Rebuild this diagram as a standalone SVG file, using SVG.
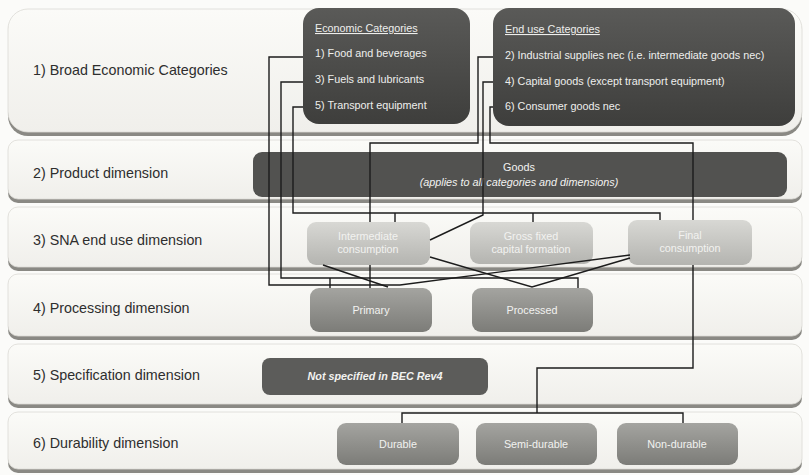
<svg xmlns="http://www.w3.org/2000/svg" width="809" height="475" viewBox="0 0 809 475">
<defs>
<linearGradient id="gDark" x1="0" y1="0" x2="0" y2="1"><stop offset="0" stop-color="#5a5a58"/><stop offset="1" stop-color="#3e3e3c"/></linearGradient>
<linearGradient id="gLight" x1="0" y1="0" x2="0" y2="1"><stop offset="0" stop-color="#d8d8d4"/><stop offset="1" stop-color="#b4b4b0"/></linearGradient>
<linearGradient id="gMid" x1="0" y1="0" x2="0" y2="1"><stop offset="0" stop-color="#a4a4a0"/><stop offset="1" stop-color="#7c7c78"/></linearGradient>
<linearGradient id="gPanel" x1="0" y1="0" x2="0" y2="1"><stop offset="0" stop-color="#fbfbf8"/><stop offset="1" stop-color="#f0efeb"/></linearGradient>
</defs>
<style>
.shadow{fill:#8a8984}
.panel{fill:url(#gPanel);stroke:#dcdbd6;stroke-width:0.8}
.lbl{font-family:"Liberation Sans",Arial,sans-serif;font-size:14.3px;fill:#2e2e2e}
.bt{font-family:"Liberation Sans",Arial,sans-serif;font-size:10.8px;fill:#eeeeec}
.bc{font-family:"Liberation Sans",Arial,sans-serif;font-size:10.8px;fill:#f2f2f0;text-anchor:middle}
.dark{fill:url(#gDark)}
.light{fill:url(#gLight)}
.mid{fill:url(#gMid)}
.conn{fill:none;stroke:#1c1c1c;stroke-width:1.4}
</style>
<rect width="809" height="475" fill="#fbfbf9"/>

<g id="row1"><rect class="shadow" x="8" y="12" width="794" height="124" rx="20"/><rect class="panel" x="8" y="9" width="794" height="123" rx="20"/><text class="lbl" x="33" y="75">1) Broad Economic Categories</text></g>
<g id="row2"><rect class="shadow" x="8" y="143" width="794" height="60" rx="10"/><rect class="panel" x="8" y="140" width="794" height="59" rx="10"/><text class="lbl" x="33" y="178">2) Product dimension</text></g>
<g id="row3"><rect class="shadow" x="8" y="210" width="794" height="61" rx="10"/><rect class="panel" x="8" y="207" width="794" height="60" rx="10"/><text class="lbl" x="33" y="245">3) SNA end use dimension</text></g>
<g id="row4"><rect class="shadow" x="8" y="277" width="794" height="63" rx="10"/><rect class="panel" x="8" y="274" width="794" height="62" rx="10"/><text class="lbl" x="33" y="313">4) Processing dimension</text></g>
<g id="row5"><rect class="shadow" x="8" y="347" width="794" height="61" rx="10"/><rect class="panel" x="8" y="344" width="794" height="60" rx="10"/><text class="lbl" x="33" y="380">5) Specification dimension</text></g>
<g id="row6"><rect class="shadow" x="8" y="415" width="794" height="58" rx="10"/><rect class="panel" x="8" y="412" width="794" height="57" rx="10"/><text class="lbl" x="33" y="448">6) Durability dimension</text></g>

<g id="econ"><rect class="dark" x="303" y="8" width="167" height="116" rx="16"/>
<text class="bt" x="315" y="32" text-decoration="underline">Economic Categories</text>
<text class="bt" x="315" y="57">1) Food and beverages</text>
<text class="bt" x="315" y="83">3) Fuels and lubricants</text>
<text class="bt" x="315" y="109">5) Transport equipment</text></g>
<g id="enduse"><rect class="dark" x="493" y="8" width="302" height="118" rx="16"/>
<text class="bt" x="505" y="33" text-decoration="underline">End use Categories</text>
<text class="bt" x="505" y="59">2) Industrial supplies nec (i.e. intermediate goods nec)</text>
<text class="bt" x="505" y="85">4) Capital goods (except transport equipment)</text>
<text class="bt" x="505" y="110">6) Consumer goods nec</text></g>

<g id="goods"><rect x="253" y="152" width="534" height="45" rx="9" fill="#525250"/>
<text class="bc" x="519" y="171" fill="#dcdcd8">Goods</text>
<text class="bc" x="519" y="186" font-style="italic" fill="#dcdcd8">(applies to all categories and dimensions)</text></g>

<g id="intermediate"><rect class="light" x="307" y="222" width="123" height="43" rx="9"/><text class="bc" x="368" y="240">Intermediate</text><text class="bc" x="368" y="253">consumption</text></g>
<g id="gfcf"><rect class="light" x="470" y="222" width="123" height="42" rx="9"/><text class="bc" x="531" y="240">Gross fixed</text><text class="bc" x="531" y="253">capital formation</text></g>
<g id="final"><rect class="light" x="628" y="220" width="124" height="45" rx="9"/><text class="bc" x="690" y="239">Final</text><text class="bc" x="690" y="252">consumption</text></g>

<g id="primary"><rect class="mid" x="310" y="288" width="122" height="44" rx="9"/><text class="bc" x="371" y="314">Primary</text></g>
<g id="processed"><rect class="mid" x="472" y="288" width="121" height="44" rx="9"/><text class="bc" x="532" y="314">Processed</text></g>

<g id="notspec"><rect x="262" y="358" width="226" height="37" rx="8" fill="#5c5c5a"/><text class="bc" x="375" y="380" font-size="10.2px" font-style="italic" font-weight="bold">Not specified in BEC Rev4</text></g>

<g id="durable"><rect class="mid" x="337" y="423" width="122" height="42" rx="9"/><text class="bc" x="398" y="448">Durable</text></g>
<g id="semidurable"><rect class="mid" x="476" y="423" width="121" height="42" rx="9"/><text class="bc" x="536" y="448">Semi-durable</text></g>
<g id="nondurable"><rect class="mid" x="617" y="423" width="121" height="42" rx="9"/><text class="bc" x="677" y="448">Non-durable</text></g>

<g id="connectors">
<path class="conn" d="M303 57H269V285H400"/>
<path class="conn" d="M303 82H281V278H578V288"/>
<path class="conn" d="M303 107H293V213H660V220 M395 213V222 M533 213V222"/>
<path class="conn" d="M493 57H478V143H370V222"/>
<path class="conn" d="M493 82H483V215L430 240"/>
<path class="conn" d="M493 107H490V143H693V220"/>
<path class="conn" d="M693 265V368H537V413 M402 423V413H683V423"/>
<path class="conn" d="M370 265V288 M330 278V288"/>
<path class="conn" d="M323 265L388 287"/>
<path class="conn" d="M400 285L630 255"/>
<path class="conn" d="M430 257L532 287L630 258"/>
</g>
</svg>
